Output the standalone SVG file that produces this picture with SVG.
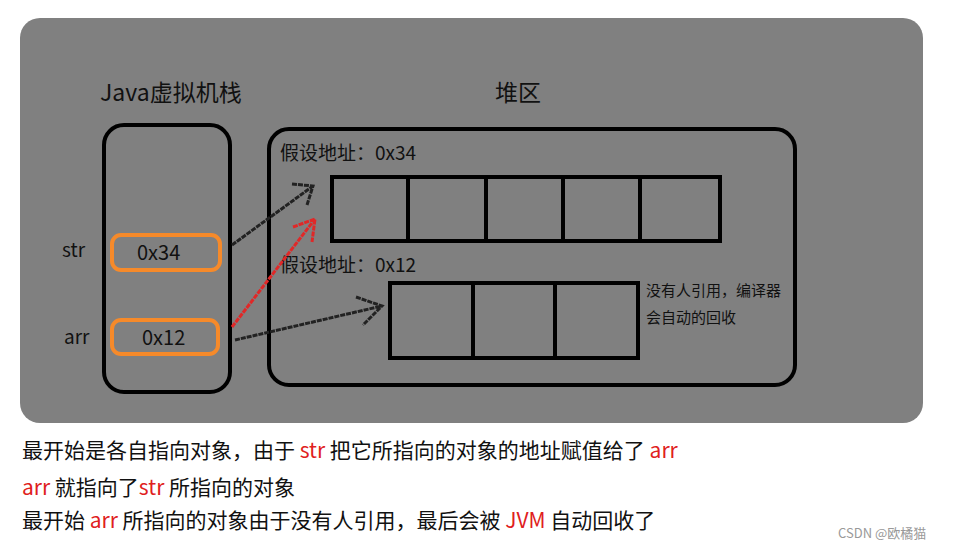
<svg xmlns="http://www.w3.org/2000/svg" width="965" height="550" viewBox="0 0 965 550">
<style>
text{font-family:"Microsoft YaHei","Noto Sans CJK SC",sans-serif;fill:#111}
.b{fill:none;stroke:#000;stroke-width:4}
.o{fill:none;stroke:#f68a2a;stroke-width:4}
.a{fill:none;stroke:#222;stroke-width:3;stroke-dasharray:5 1}
</style>
<rect width="965" height="550" fill="#fff"/>
<rect x="20" y="18" width="903" height="405" rx="20" fill="#808080"/>
<g id="labels">
<text x="100" y="101" font-size="23">Java虚拟机栈</text>
<text x="495" y="101" font-size="23">堆区</text>
<text x="62" y="257" font-size="19">str</text>
<text x="64" y="344" font-size="19">arr</text>
<text x="280" y="160" font-size="19">假设地址：0x34</text>
<text x="280" y="272" font-size="19">假设地址：0x12</text>
<text x="646" y="296" font-size="15">没有人引用，编译器</text>
<text x="646" y="323" font-size="15">会自动的回收</text>
</g>
<g id="stack"><rect class="b" x="104" y="125" width="126" height="267" rx="20"/></g>
<g id="str"><rect class="o" x="112" y="235" width="108" height="35" rx="9"/><text x="137" y="260" font-size="20">0x34</text></g>
<g id="arr"><rect class="o" x="112" y="320" width="106" height="34" rx="9"/><text x="142" y="345" font-size="20">0x12</text></g>
<g id="heap"><rect class="b" x="269" y="129" width="526" height="256" rx="20"/></g>
<g id="obj34">
<rect class="b" x="332" y="177" width="388" height="64"/>
<line class="b" x1="408" y1="177" x2="408" y2="241"/><line class="b" x1="486" y1="177" x2="486" y2="241"/><line class="b" x1="563" y1="177" x2="563" y2="241"/><line class="b" x1="640" y1="177" x2="640" y2="241"/>
</g>
<g id="obj12">
<rect class="b" x="390" y="283" width="248" height="75"/>
<line class="b" x1="473" y1="283" x2="473" y2="358"/><line class="b" x1="555" y1="283" x2="555" y2="358"/>
</g>
<g id="connectors">
<path class="a" d="M232 245L313 186M292 184L313 186L307 205"/>
<path class="a" d="M235 340L382 306M356 297L382 306L363 325"/>
<path class="a" style="stroke:#e02828" d="M232 327L315 219M293 227L315 219L312 242"/>
</g>
<g id="caption" font-size="21">
<text x="22" y="458">最开始是各自指向对象，由于 <tspan fill="#e02020">str</tspan> 把它所指向的对象的地址赋值给了 <tspan fill="#e02020">arr</tspan></text>
<text x="22" y="495"><tspan fill="#e02020">arr</tspan> 就指向了<tspan fill="#e02020">str</tspan> 所指向的对象</text>
<text x="22" y="528">最开始 <tspan fill="#e02020">arr</tspan> 所指向的对象由于没有人引用，最后会被 <tspan fill="#e02020">JVM</tspan> 自动回收了</text>
<text x="838" y="538" font-size="13" style="fill:#999">CSDN @欧橘猫</text>
</g>
</svg>
